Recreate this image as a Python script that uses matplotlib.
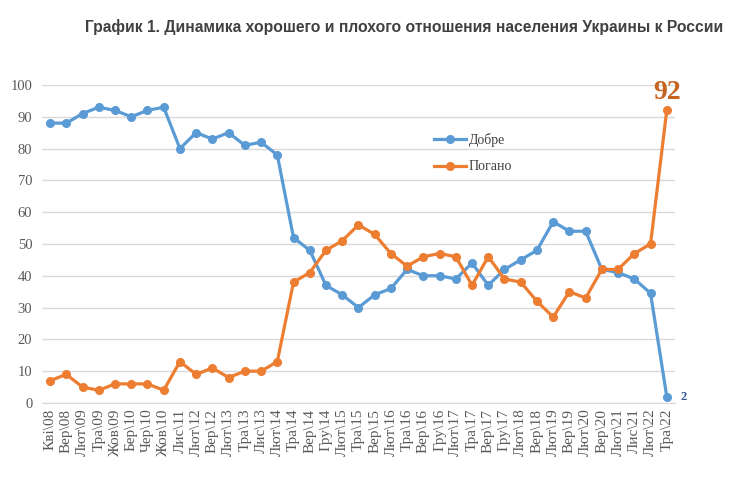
import matplotlib
matplotlib.use("Agg")
import matplotlib.pyplot as plt

labels = ["Кві\\08", "Вер\\08", "Лют\\09", "Тра\\09", "Жов\\09", "Бер\\10", "Чер\\10", "Жов\\10",
          "Лис\\11", "Лют\\12", "Вер\\12", "Лют\\13", "Тра\\13", "Лис\\13", "Лют\\14", "Тра\\14",
          "Вер\\14", "Гру\\14", "Лют\\15", "Тра\\15", "Вер\\15", "Лют\\16", "Тра\\16", "Вер\\16",
          "Гру\\16", "Лют\\17", "Тра\\17", "Вер\\17", "Гру\\17", "Лют\\18", "Вер\\18", "Лют\\19",
          "Вер\\19", "Лют\\20", "Вер\\20", "Лют\\21", "Лис\\21", "Лют\\22", "Тра\\22"]
dobre = [88, 88, 91, 93, 92, 90, 92, 93, 80, 85, 83, 85, 81, 82, 78, 52, 48, 37, 34, 30,
         34, 36, 42, 40, 40, 39, 44, 37, 42, 45, 48, 57, 54, 54, 42, 41, 39, 34.5, 2]
pogano = [7, 9, 5, 4, 6, 6, 6, 4, 13, 9, 11, 8, 10, 10, 13, 38, 41, 48, 51, 56,
          53, 47, 43, 46, 47, 46, 37, 46, 39, 38, 32, 27, 35, 33, 42, 42, 47, 50, 92]

blue = "#5B9BD5"
orange = "#ED7D31"
serif = "Liberation Serif"

fig = plt.figure(figsize=(7.3, 4.9), dpi=100)
ax = fig.add_axes([0.0575, 0.1776, 0.867, 0.649])
x = list(range(len(labels)))
ax.plot(x, dobre, color=blue, lw=2.3, marker="o", ms=5.5, label="Добре", zorder=3)
ax.plot(x, pogano, color=orange, lw=2.3, marker="o", ms=5.5, label="Погано", zorder=3)

ax.set_xlim(-0.5, len(labels) - 0.5)
ax.set_ylim(0, 100)
ax.set_yticks(range(0, 101, 10))
ax.set_xticks(x)
ax.set_xticklabels(labels, rotation=90, fontfamily=serif, fontsize=11, color="#595959")
for t in ax.get_yticklabels():
    t.set_fontfamily(serif)
    t.set_fontsize(10.5)
    t.set_color("#595959")
ax.tick_params(axis="both", length=0)
ax.tick_params(axis="y", pad=7)
ax.tick_params(axis="x", pad=4)
ax.grid(axis="y", color="#d9d9d9", lw=1)
ax.set_axisbelow(True)
for s in ["top", "right", "left"]:
    ax.spines[s].set_visible(False)
ax.spines["bottom"].set_color("#d9d9d9")

ax.annotate("92", xy=(len(labels) - 1, pogano[-1]), xytext=(0, 13), textcoords="offset points",
            ha="center", va="center", fontfamily=serif, fontweight="bold", fontsize=20, color="#C5631F")
ax.annotate("2", xy=(len(labels) - 1, dobre[-1]), xytext=(12, 0), textcoords="offset points",
            ha="center", va="center", fontfamily=serif, fontweight="bold", fontsize=9, color="#2F5597")

leg = ax.legend(loc="upper left", bbox_to_anchor=(0.608, 0.87), frameon=False,
                prop={"family": serif, "size": 10}, handlelength=2.3, handletextpad=0.2,
                labelspacing=0.95, borderpad=0)
for t in leg.get_texts():
    t.set_color("#404040")

fig.text(0.553, 0.945, "График 1. Динамика хорошего и плохого отношения населения Украины к России",
         ha="center", va="center", fontfamily="Liberation Sans", fontweight="bold", fontsize=11.25,
         color="#404040")

fig.savefig("out.png", dpi=100)
